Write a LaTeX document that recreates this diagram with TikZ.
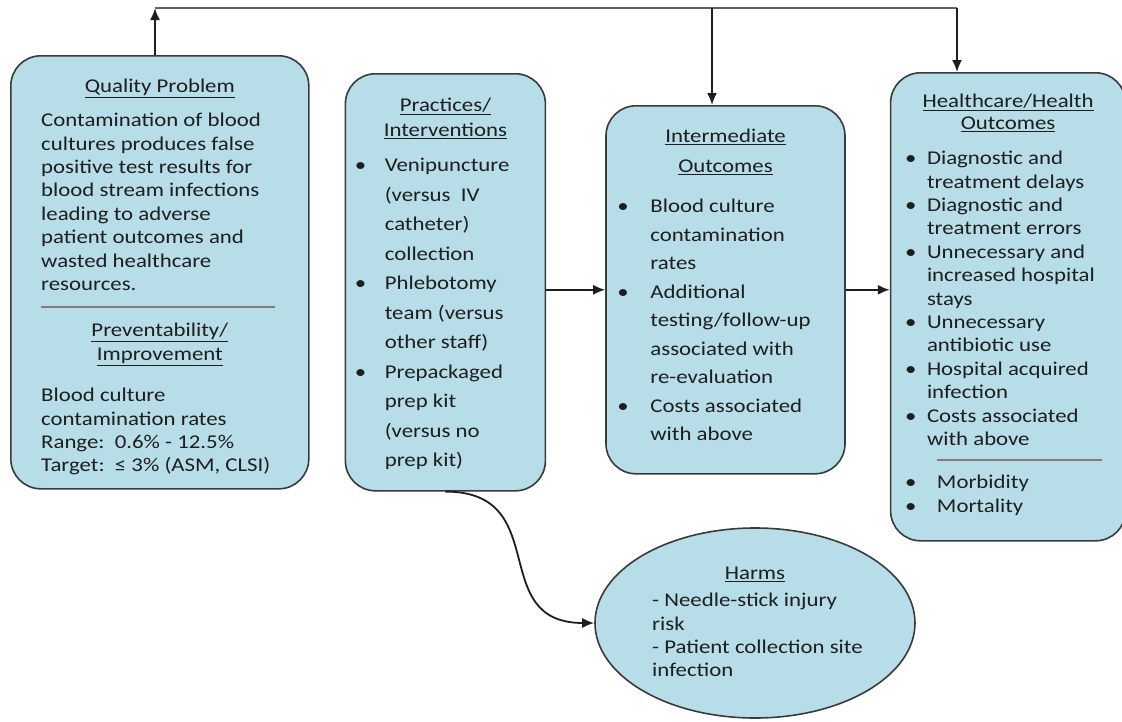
\documentclass[tikz,border=0pt]{standalone}
\usepackage{fontspec}
\setmainfont{Carlito}[FakeStretch=1.17]
\usepackage{tikz}
\usetikzlibrary{arrows.meta, shapes.geometric}
\usetikzlibrary{positioning}

\definecolor{panel}{HTML}{B7DDE8}
\definecolor{edge}{HTML}{3A3A3A}
\definecolor{ink}{HTML}{1E1E1E}
\definecolor{sep}{HTML}{8A7A72}

% bullet and hanging indent for the lists
\newcommand{\bitem}[1][25pt]{\makebox[#1][l]{\textbullet}}
\newcommand{\bcont}[1][25pt]{\hspace*{#1}}

\tikzset{
    stage/.style={draw=edge, fill=panel, line width=1.6pt, rounded corners=30pt, inner sep=0pt},
    bubble/.style={draw=edge, fill=panel, line width=1.6pt, shape=ellipse, inner sep=0pt},
    title/.style={font=\fontsize{19.5}{24}\selectfont, align=center, inner sep=0pt, text=ink},
    notes/.style={font=\fontsize{19.5}{23.4}\selectfont, align=left, inner sep=0pt, text=ink},
    divider/.style={draw=sep, line width=1.8pt},
    flow/.style={draw=ink, line width=1.8pt, -{Latex[length=12pt,width=10pt]}},
    wire/.style={draw=edge!80, line width=1.8pt},
}

\begin{document}
\begin{tikzpicture}[x=1pt, y=-1pt]

\useasboundingbox (0,0) rectangle (1122,721);

\node [stage,
    anchor=north west,
    minimum width=298pt,
    minimum height=433pt,
] (quality) at (10,55) {};

\node [stage,
    minimum width=200pt,
    minimum height=417pt,
    below right=18pt and 35pt of quality.north east
] (practices) {};

\node [stage,
    minimum width=239pt,
    minimum height=368pt,
    below right=32pt and 59pt of practices.north east
] (intermediate) {};

\node [stage,
    minimum width=235pt,
    minimum height=468pt,
    below right=-33pt and 44pt of intermediate.north east
] (outcomes) {};

\node [bubble,
    minimum width=320pt,
    minimum height=190pt,
] (harms) at (755,623) {};

% quality problem
\node [title, below=24pt of quality.north] (quality_head) {\underline{Quality Problem}};
\node [notes, below right=58pt and 31pt of quality.north west] (quality_text)
    {Contamination of blood\\ cultures produces false\\ positive test results for\\ blood stream infections\\
     leading to adverse\\ patient outcomes and\\ wasted healthcare\\ resources.};
\draw [divider] ([shift={(31pt,-252pt)}]quality.north west) -- ++(234,0);
\node [title, below=268pt of quality.north] (prevent_head)
    {\underline{Preventability/}\\ \underline{Improvement}};
\node [notes, below right=333pt and 31pt of quality.north west] (prevent_text)
    {Blood culture\\ contamination rates\\ Range:\ \ 0.6\% - 12.5\%\\ Target:\ \ ≤ 3\% (ASM, CLSI)};

% practices
\node [title, font=\fontsize{19.5}{25}\selectfont, below=25pt of practices.north] (practices_head)
    {\underline{Practices/}\\ \underline{Interventions}};
\node [notes, font=\fontsize{19.5}{29.5}\selectfont, below right=85pt and 10pt of practices.north west] (practices_list)
    {\bitem[30pt]Venipuncture\\ \bcont[30pt](versus\ \ IV\\ \bcont[30pt]catheter)\\ \bcont[30pt]collection\\
     \bitem[30pt]Phlebotomy\\ \bcont[30pt]team (versus\\ \bcont[30pt]other staff)\\
     \bitem[30pt]Prepackaged\\ \bcont[30pt]prep kit\\ \bcont[30pt](versus no\\ \bcont[30pt]prep kit)};

% intermediate outcomes
\node [title, font=\fontsize{19.5}{30}\selectfont, below=24pt of intermediate.north] (inter_head)
    {\underline{Intermediate}\\ \underline{Outcomes}};
\node [notes, font=\fontsize{19.5}{28.5}\selectfont, below right=94pt and 12pt of intermediate.north west] (inter_list)
    {\bitem[33pt]Blood culture\\ \bcont[33pt]contamination\\ \bcont[33pt]rates\\
     \bitem[33pt]Additional\\ \bcont[33pt]testing/follow-up\\ \bcont[33pt]associated with\\ \bcont[33pt]re-evaluation\\
     \bitem[33pt]Costs associated\\ \bcont[33pt]with above};

% healthcare outcomes
\node [title, font=\fontsize{19.5}{22}\selectfont, below=22pt of outcomes.north] (outcome_head)
    {\underline{Healthcare/Health}\\ \underline{Outcomes}};
\node [notes, below right=79pt and 15pt of outcomes.north west] (outcome_list)
    {\bitem[22pt]Diagnostic and\\ \bcont[22pt]treatment delays\\ \bitem[22pt]Diagnostic and\\ \bcont[22pt]treatment errors\\
     \bitem[22pt]Unnecessary and\\ \bcont[22pt]increased hospital\\ \bcont[22pt]stays\\
     \bitem[22pt]Unnecessary\\ \bcont[22pt]antibiotic use\\ \bitem[22pt]Hospital acquired\\ \bcont[22pt]infection\\
     \bitem[22pt]Costs associated\\ \bcont[22pt]with above};
\draw [divider] ([shift={(47pt,-388pt)}]outcomes.north west) -- ++(165,0);
\node [notes, font=\fontsize{19.5}{24}\selectfont, below right=403pt and 15pt of outcomes.north west] (outcome_more)
    {\bitem[32pt]Morbidity\\ \bitem[32pt]Mortality};

% harms
\node [title, below=40pt of harms.north] (harms_head) {\underline{Harms}};
\node [notes, below right=-30pt and -103pt of harms.center] (harms_text)
    {- Needle-stick injury\\ risk\\ - Patient collection site\\ infection};

% connectors
\coordinate (bus_left) at (155,8);
\coordinate (bus_mid) at (712,8);
\coordinate (bus_right) at (957,8);

\draw [flow] (bus_left |- quality.north) -- (bus_left);
\draw [wire] (bus_left) -- (bus_right);
\draw [flow] (bus_mid) -- (bus_mid |- intermediate.north);
\draw [flow] (bus_right) -- (bus_right |- outcomes.north);

\draw [flow] (practices.east |- intermediate.west) -- (intermediate.west);
\draw [flow] (intermediate.east) -- (intermediate.east -| outcomes.west);
\draw [flow] (practices.south) to[out=0, in=180, looseness=1.4] (harms.west);

\end{tikzpicture}
\end{document}
